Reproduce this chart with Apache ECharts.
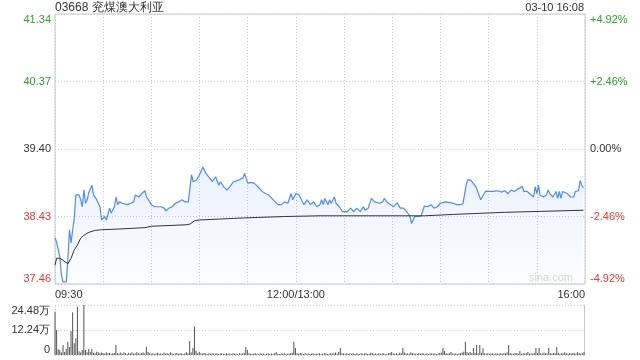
<!DOCTYPE html>
<html><head><meta charset="utf-8">
<script src="https://cdn.jsdelivr.net/npm/echarts@6/dist/echarts.min.js"></script>
<style>html,body{margin:0;padding:0;background:#fff}#c{width:640px;height:360px}</style>
</head><body><div id="c"></div>
<script>
const titleText = '03668 兖煤澳大利亚';
const stampText = '03-10 16:08';
const prevClose = 39.40;
const priceTicks = [37.46, 38.43, 39.40, 40.37, 41.34];
const timeTickMinutes = [0, 150, 330];
const timeLabels = ['09:30', '12:00/13:00', '16:00'];

// minutes since open (12:00 and 13:00 share minute 150)
const priceMinute = [0,1,3,4,5,7,8,9,10,11,12,13,15,16,17,18,19,20,21,23,24,26,28,29,30,31,32,34,35,37,38,39,40,42,45,47,49,50,52,54,56,57,59,60,62,66,68,69,71,73,75,77,79,81,83,85,86,88,90,92,94,95,98,100,102,103,105,107,109,111,114,117,118,120,122,124,127,129,131,133,135,137,139,141,143,145,147,148,150,152,155,157,159,161,163,165,166,167,168,170,171,172,174,175,177,179,182,184,186,188,190,192,193,195,197,199,202,204,205,207,209,211,213,215,217,219,221,222,224,226,228,230,232,234,236,238,240,243,246,248,250,252,254,256,257,259,260,262,264,265,266,268,270,273,276,278,280,282,284,286,288,291,292,294,296,298,299,300,301,302,304,306,307,308,310,312,313,314,315,316,319,321,323,324,326,327,328,329];
const priceValue = [38.12,38.06,37.85,37.59,37.49,37.49,37.80,38.24,38.05,38.24,38.41,38.74,38.74,38.67,38.57,38.81,38.62,38.67,38.77,38.88,38.74,38.67,38.57,38.38,38.36,38.43,38.38,38.55,38.48,38.57,38.71,38.60,38.64,38.62,38.60,38.62,38.64,38.74,38.71,38.76,38.80,38.71,38.64,38.60,38.57,38.57,38.55,38.51,38.55,38.57,38.62,38.64,38.67,38.64,38.64,39.03,38.93,38.95,39.03,39.14,39.05,39.03,38.93,39.00,38.88,38.93,38.86,38.81,38.86,38.93,38.95,38.98,39.05,38.91,38.92,38.91,38.84,38.79,38.76,38.74,38.69,38.64,38.60,38.60,38.64,38.62,38.76,38.67,38.76,38.74,38.60,38.67,38.60,38.64,38.57,38.60,38.67,38.60,38.69,38.60,38.67,38.62,38.71,38.62,38.57,38.50,38.50,38.55,38.50,38.55,38.50,38.57,38.52,38.55,38.69,38.64,38.62,38.64,38.69,38.63,38.60,38.57,38.63,38.55,38.55,38.50,38.43,38.33,38.43,38.43,38.44,38.58,38.57,38.60,38.55,38.57,38.62,38.64,38.63,38.62,38.60,38.60,38.61,38.88,38.96,38.95,38.94,38.86,38.74,38.67,38.71,38.79,38.79,38.79,38.80,38.78,38.80,38.76,38.81,38.79,38.82,38.86,38.79,38.79,38.75,38.71,38.86,38.76,38.88,38.74,38.71,38.74,38.81,38.76,38.71,38.79,38.69,38.79,38.69,38.79,38.76,38.71,38.71,38.79,38.80,38.95,38.88,38.84];

const avgMinute = [0,1,3,5,8,10,12,14,16,18,20,22,25,29,40,56,60,81,84,87,90,118,143,165,230,248,280,329];
const avgValue = [37.73,37.83,37.83,37.80,37.75,37.83,37.95,38.02,38.12,38.16,38.19,38.21,38.23,38.24,38.25,38.27,38.29,38.31,38.32,38.37,38.38,38.41,38.43,38.44,38.44,38.46,38.49,38.52];

// volume per minute, in 万 shares (index = minute since open)
const volumeWan = [
21.2,12.2,2.8,2.5,1.2,4.9,1.5,2.9,6.5,3.9,
11.7,20.9,5.7,8.2,23.6,1.8,1.2,2.4,24.5,2.4,
1.3,2.9,1.5,2.9,1.1,0.9,1.6,1.4,0.8,1.2,
1.0,0.7,1.3,0.9,1.1,0.6,0.8,1.0,4.9,0.9,
0.7,1.2,0.6,1.4,0.8,0.5,1.1,0.7,1.3,0.6,
0.9,1.4,0.8,0.6,1.0,1.2,0.7,3.9,1.5,0.8,
0.6,0.9,0.5,0.7,1.1,0.6,0.8,0.5,1.2,0.7,
0.9,0.6,1.3,0.8,0.5,0.7,1.0,0.6,0.8,0.7,
0.5,0.9,1.4,0.8,6.9,1.2,3.4,13.9,2.1,0.9,
1.6,0.8,0.6,1.0,0.7,0.5,0.8,0.6,0.9,0.7,
0.6,0.8,0.5,0.7,0.9,0.6,0.5,0.8,0.6,0.7,
0.5,0.9,0.6,0.7,0.5,0.8,0.6,0.7,1.1,3.9,
2.5,0.8,0.6,0.5,0.7,0.9,0.6,0.5,0.8,0.6,
0.7,0.5,0.6,0.8,0.5,0.7,0.6,0.9,1.5,0.6,
0.5,0.7,0.6,0.8,0.5,0.6,0.7,0.9,1.1,6.5,
3.4,0.9,0.6,1.0,0.7,0.5,0.8,0.6,0.7,0.5,
0.6,0.8,0.5,0.7,0.6,0.9,0.5,0.6,0.8,0.7,
0.5,0.6,0.9,0.7,0.8,1.2,0.6,1.5,3.4,0.9,
0.7,0.6,0.8,0.5,0.7,0.6,0.9,0.5,0.6,0.7,
0.5,0.8,0.6,0.7,0.9,0.5,0.6,1.1,0.8,0.6,
0.7,0.5,0.8,0.6,0.9,0.7,0.5,0.6,0.8,1.0,
1.5,0.7,0.6,0.8,0.5,1.1,0.9,3.4,1.2,0.7,
0.9,0.6,1.3,0.8,0.7,0.6,0.5,0.8,0.6,0.9,
0.7,0.6,0.8,0.5,0.7,0.9,0.6,0.8,0.5,0.7,
1.0,1.2,3.4,2.0,0.8,0.6,0.9,1.5,0.7,0.6,
0.8,0.5,0.7,0.9,1.2,1.6,6.5,1.3,0.8,1.5,
0.9,3.4,1.0,4.9,0.8,4.9,1.1,3.4,0.9,0.6,
0.8,0.6,0.7,0.9,0.5,0.8,0.6,0.7,0.9,0.6,
0.8,0.7,1.2,4.9,0.9,0.7,0.6,1.0,0.8,0.7,
2.0,0.6,0.9,0.7,0.8,1.5,0.6,0.9,0.7,1.1,
3.4,0.8,3.4,0.9,0.6,1.2,0.8,0.7,3.4,0.9,
0.7,1.0,0.8,3.9,1.1,0.6,0.9,0.7,1.3,0.8,
0.6,0.9,0.7,1.0,0.8,0.6,1.5,0.9,0.7,0.8,
1.5];

const GREEN = '#2aa52a', RED = '#ee3333', DARK = '#333';
const FONT = '"Liberation Sans", Arial, sans-serif';
const dotted = { color: '#ccc', type: [1, 2], width: 1 };
function signColor(d) { return d > 1e-6 ? GREEN : (d < -1e-6 ? RED : DARK); }

const chart = echarts.init(document.getElementById('c'), null, { renderer: 'canvas' });
chart.setOption({
  animation: false,
  textStyle: { fontFamily: FONT },
  title: [
    { text: titleText, left: 55, top: 2, padding: 0, textStyle: { fontSize: 12, fontWeight: 'normal', color: DARK, fontFamily: FONT } },
    { text: stampText, right: 56, top: 2, padding: 0, textStyle: { fontSize: 11, fontWeight: 'normal', color: DARK, fontFamily: FONT } }
  ],
  graphic: [{
    type: 'text', right: 67, top: 272, silent: true,
    style: { text: 'sina.com', fill: '#d8d8d8', font: '11px ' + FONT }
  }],
  grid: [
    { left: 55, right: 55, top: 14, height: 270, show: true, borderColor: '#c8c8c8', borderWidth: 1, backgroundColor: 'transparent' },
    { left: 55, right: 56, top: 305, height: 50 }
  ],
  xAxis: [
    {
      type: 'value', gridIndex: 0, min: 0, max: 330, interval: 30,
      axisLine: { show: false }, axisTick: { show: false },
      splitLine: { show: true, lineStyle: dotted },
      axisLabel: {
        customValues: timeTickMinutes, margin: 5, fontSize: 11, color: DARK, fontFamily: FONT,
        formatter: v => timeLabels[timeTickMinutes.indexOf(v)] || '',
        alignMinLabel: 'left', alignMaxLabel: 'right'
      }
    },
    {
      type: 'value', gridIndex: 1, min: 0, max: 330, interval: 30,
      axisLine: { show: false }, axisTick: { show: false }, axisLabel: { show: false }, splitLine: { show: false }
    }
  ],
  yAxis: [
    {
      type: 'value', gridIndex: 0, min: priceTicks[0], max: priceTicks[priceTicks.length - 1],
      axisLine: { show: false }, axisTick: { show: false }, splitLine: { show: false },
      axisLabel: {
        customValues: priceTicks, margin: 4, fontSize: 11, fontFamily: FONT,
        formatter: v => v.toFixed(2),
        color: v => signColor(v - prevClose),
        verticalAlignMinLabel: 'bottom', verticalAlignMaxLabel: 'top'
      }
    },
    {
      type: 'value', gridIndex: 0, position: 'right', min: -4.92, max: 4.92, interval: 2.46,
      axisLine: { show: false }, axisTick: { show: false },
      splitLine: { show: true, lineStyle: dotted },
      axisLabel: {
        margin: 5, fontSize: 11, fontFamily: FONT,
        formatter: v => (v > 1e-6 ? '+' : '') + (Math.abs(v) < 1e-6 ? 0 : v).toFixed(2) + '%',
        color: v => signColor(v),
        verticalAlignMinLabel: 'bottom', verticalAlignMaxLabel: 'top'
      }
    },
    {
      type: 'value', gridIndex: 1, min: 0, max: 24.48, interval: 12.24,
      axisLine: { show: true, lineStyle: dotted }, axisTick: { show: false },
      splitLine: { show: true, lineStyle: dotted },
      axisLabel: {
        margin: 5, fontSize: 11, color: DARK, fontFamily: FONT,
        formatter: v => v === 0 ? '0' : v.toFixed(2) + '万',
        verticalAlignMinLabel: 'bottom', verticalAlignMaxLabel: 'top'
      }
    },
    {
      type: 'value', gridIndex: 1, position: 'right', min: 0, max: 24.48,
      axisLine: { show: true, lineStyle: { color: '#c8c8c8' } }, axisTick: { show: false },
      axisLabel: { show: false }, splitLine: { show: false }
    }
  ],
  series: [
    {
      type: 'line', xAxisIndex: 0, yAxisIndex: 0, symbol: 'none', z: 3,
      data: priceMinute.map((m, i) => [m, priceValue[i]]),
      lineStyle: { color: '#4d8cf5', width: 1.2 },
      areaStyle: {
        origin: 'start',
        color: new echarts.graphic.LinearGradient(0, 0, 0, 1, [
          { offset: 0, color: 'rgba(77,140,245,0.16)' },
          { offset: 1, color: 'rgba(77,140,245,0.03)' }
        ])
      }
    },
    {
      type: 'line', xAxisIndex: 0, yAxisIndex: 0, symbol: 'none', z: 4,
      data: avgMinute.map((m, i) => [m, avgValue[i]]),
      lineStyle: { color: '#333', width: 1 }
    },
    {
      type: 'bar', xAxisIndex: 1, yAxisIndex: 2, barWidth: 1,
      data: volumeWan.map((v, i) => [i, v]),
      itemStyle: { color: '#555' }
    }
  ]
});
</script>
</body></html>
